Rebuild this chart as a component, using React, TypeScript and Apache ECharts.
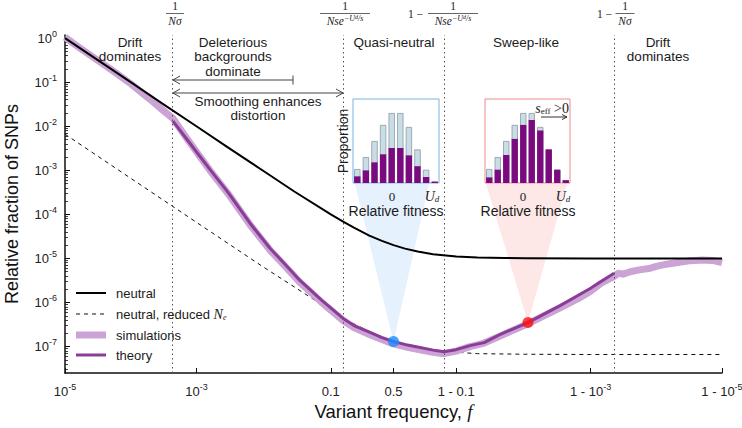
import React, { useEffect, useRef } from "react";
import * as echarts from "echarts";

const SANS = "'Liberation Sans', Arial, Helvetica, sans-serif";
const SERIF = "'Liberation Serif', 'DejaVu Serif', serif";

// ---- axis ticks / annotations ----
const xTickFreqs = [1e-5, 1e-3, 0.1, 0.5, 0.9, 0.999, 0.99999];
const xTickLabels = ["10^-5", "10^-3", "0.1", "0.5", "1 - 0.1", "1 - 10^-3", "1 - 10^-5"];
const yTickExponents = [0, -1, -2, -3, -4, -5, -6, -7];
const yMinorMultipliers = [2, 3, 4, 5, 6, 7, 8, 9];
const boundaryFreqs = [4.4e-4, 0.146, 0.854, 0.99956];

// ---- neutral ----
const neutralFreq = [1e-5, 2e-5, 5e-5, 1e-4, 3e-4, 1e-3, 3e-3, 1e-2, 3e-2, 0.1, 0.15, 0.2, 0.3, 0.4, 0.5, 0.6, 0.7, 0.8, 0.9, 0.95, 0.98, 0.99, 0.999, 0.9999, 0.99999];
const neutralVal = [1.0, 0.5, 0.2, 0.1, 3.3e-2, 1.0e-2, 3.3e-3, 1.0e-3, 3.3e-4, 1.0e-4, 6.7e-5, 5.0e-5, 3.3e-5, 2.5e-5, 2.0e-5, 1.67e-5, 1.43e-5, 1.25e-5, 1.11e-5, 1.05e-5, 1.02e-5, 1.01e-5, 1.0e-5, 1.0e-5, 1.0e-5];

// ---- neutral, reduced Ne ----
const reducedFreq = [1e-5, 1e-4, 1e-3, 1e-2, 0.1, 0.2, 0.3, 0.4, 0.5, 0.6, 0.7, 0.85, 0.95, 0.99, 0.999, 0.99999];
const reducedVal = [6.6e-3, 6.6e-4, 6.6e-5, 6.6e-6, 6.6e-7, 3.3e-7, 2.2e-7, 1.65e-7, 1.32e-7, 1.1e-7, 9.4e-8, 7.8e-8, 6.9e-8, 6.7e-8, 6.6e-8, 6.6e-8];

// ---- simulations ----
const simFreq = [1e-5, 1.4e-5, 2e-5, 3.4e-5, 6e-5, 1e-4, 2e-4, 3e-4, 4.4e-4, 7.2e-4, 1.6e-3, 3e-3, 6.5e-3, 1.3e-2, 2.2e-2, 3.6e-2, 7.5e-2, 0.146, 0.2, 0.305, 0.4, 0.5, 0.62, 0.717, 0.8, 0.854, 0.9, 0.936, 0.96, 0.977, 0.9911, 0.9971, 0.9985, 0.999, 0.9993, 0.99956, 0.99962, 0.99968, 0.99975, 0.99982, 0.99987, 0.9999, 0.99993, 0.99995, 0.99997, 0.99998, 0.999986, 0.99999];
const simVal = [1.05, 0.72, 0.5, 0.29, 0.16, 0.092, 0.04, 0.024, 0.015, 5.2e-3, 1.0e-3, 3.0e-4, 5.8e-5, 1.55e-5, 6.6e-6, 2.9e-6, 1.0e-6, 3.9e-7, 2.7e-7, 1.85e-7, 1.45e-7, 1.15e-7, 9.6e-8, 8.4e-8, 7.4e-8, 6.9e-8, 7.9e-8, 1.0e-7, 1.2e-7, 1.75e-7, 3.3e-7, 7.6e-7, 1.25e-6, 1.8e-6, 2.7e-6, 3.9e-6, 4.6e-6, 4.4e-6, 5.0e-6, 5.5e-6, 5.9e-6, 6.6e-6, 7.4e-6, 8.0e-6, 8.9e-6, 9.2e-6, 9.0e-6, 8.0e-6];

// ---- theory ----
const theoryFreq = [4.4e-4, 7.2e-4, 1.6e-3, 3e-3, 6.5e-3, 1.3e-2, 2.2e-2, 3.6e-2, 7.5e-2, 0.146, 0.2, 0.305, 0.4, 0.5, 0.62, 0.717, 0.8, 0.854, 0.9, 0.936, 0.96, 0.977, 0.9911, 0.9971, 0.999, 0.99956];
const theoryVal = [1.3e-2, 5.0e-3, 1.05e-3, 3.2e-4, 6.3e-5, 1.7e-5, 7.3e-6, 3.2e-6, 1.12e-6, 4.35e-7, 3.0e-7, 2.1e-7, 1.6e-7, 1.3e-7, 1.08e-7, 9.5e-8, 8.3e-8, 7.6e-8, 8.5e-8, 1.05e-7, 1.23e-7, 1.9e-7, 3.5e-7, 8.5e-7, 2.1e-6, 4.6e-6];

// ---- highlighted points ----
const markerFreq = [0.5, 0.9911];
const markerVal = [1.3e-7, 3.5e-7];
const markerColor = ["#1a8cff", "#ff1010"];

// ---- inset histograms ----
const fitnessBins = ["-4", "-3", "-2", "-1", "0", "1", "2", "3", "4", "5"];
const quasiTotal = [0.2, 0.37, 0.6, 0.83, 1.0, 1.0, 0.8, 0.48, 0.19, 0.02];
const quasiSelected = [0.095, 0.18, 0.295, 0.41, 0.5, 0.5, 0.395, 0.24, 0.086, 0.02];
const sweepTotal = [0.2, 0.37, 0.6, 0.83, 1.0, 1.0, 0.8, 0.48, 0.19, 0.04];
const sweepSelected = [0.08, 0.19, 0.4, 0.63, 0.83, 0.9, 0.75, 0.48, 0.19, 0.04];

// ---- legend ----
const legendNames = ["neutral", "neutral, reduced Ne", "simulations", "theory"];

const SIM_COLOR = "#cba3d5";
const THEORY_COLOR = "#8a3d96";
const LIGHT_BAR = "#c9dde7";
const DARK_BAR = "#7b0a80";

const logit = (f: number) => Math.log10(f / (1 - f));
const toPts = (fs: number[], vs: number[]) => fs.map((f, i) => [logit(f), Math.log10(vs[i])]);

const Y_MIN = -7.6;
const Y_MAX = 0.07;

function supRich(label: string) {
  const m = label.match(/^(.*)\^(.*)$/);
  return m ? `{b|${m[1]}}{s|${m[2]}}` : `{b|${label}}`;
}

const tickRich = {
  b: { fontSize: 13, lineHeight: 18, fontFamily: SANS, color: "#222" },
  s: { fontSize: 9, lineHeight: 10, verticalAlign: "top", fontFamily: SANS, color: "#222" },
};

const fracRich = {
  i: { fontFamily: SERIF, fontStyle: "italic", fontSize: 11.5, lineHeight: 14, color: "#222" },
  s: { fontFamily: SERIF, fontStyle: "italic", fontSize: 8, lineHeight: 8, verticalAlign: "top", color: "#222" },
  ss: { fontFamily: SERIF, fontStyle: "italic", fontSize: 6, lineHeight: 13, verticalAlign: "top", color: "#222" },
};

function buildOption() {
  const xTickVals = xTickFreqs.map(logit);
  const yMinor: number[] = [];
  for (let k = 0; k >= -8; k--) {
    yMinorMultipliers.forEach((m) => {
      const v = Math.log10(m) + k;
      if (v > Y_MIN && v < Y_MAX) yMinor.push(v);
    });
  }
  const catAxis = (gridIndex: number) => ({
    type: "category",
    gridIndex,
    data: fitnessBins,
    show: false,
  });
  const valAxis = (gridIndex: number) => ({
    type: "value",
    gridIndex,
    min: 0,
    max: 1.2,
    show: false,
    splitLine: { show: false },
  });
  const lineSeries = (name: string, fs: number[], vs: number[], color: string, width: number, z: number, extra: any = {}) => ({
    name,
    type: "line",
    xAxisIndex: 0,
    yAxisIndex: 0,
    data: toPts(fs, vs),
    symbol: "none",
    showSymbol: false,
    smooth: false,
    color,
    lineStyle: { color, width, join: "round", ...(extra.lineStyle || {}) },
    z,
    ...(extra.markLine ? { markLine: extra.markLine } : {}),
  });
  return {
    animation: false,
    backgroundColor: "#ffffff",
    grid: [
      { left: 65, right: 20, top: 35, bottom: 55, containLabel: false, outerBoundsMode: "none" },
      { left: 353, top: 99, width: 86, height: 84, show: true, borderColor: "#79b4e2", borderWidth: 1, backgroundColor: "#ffffff", containLabel: false, outerBoundsMode: "none" },
      { left: 485, top: 99, width: 85, height: 84, show: true, borderColor: "#ee8a86", borderWidth: 1, backgroundColor: "#ffffff", containLabel: false, outerBoundsMode: "none" },
    ],
    xAxis: [
      {
        type: "value",
        gridIndex: 0,
        min: -5,
        max: 5,
        splitLine: { show: false },
        axisLine: { show: true, onZero: false, lineStyle: { color: "#111", width: 1.5 } },
        axisTick: { show: true, inside: true, length: 5, customValues: xTickVals, lineStyle: { color: "#111", width: 1 } },
        axisLabel: {
          show: true,
          margin: 9,
          customValues: xTickVals,
          formatter: (v: number) => {
            const i = xTickVals.findIndex((t) => Math.abs(t - v) < 1e-6);
            return i >= 0 ? supRich(xTickLabels[i]) : "";
          },
          rich: tickRich,
        },
        name: "{t|Variant frequency, }{f|f}",
        nameLocation: "middle",
        nameGap: 27,
        nameTextStyle: {
          rich: {
            t: { fontSize: 18.5, fontFamily: SANS, color: "#111" },
            f: { fontSize: 19, fontFamily: SERIF, fontStyle: "italic", color: "#111" },
          },
        },
      },
      catAxis(1),
      catAxis(2),
    ],
    yAxis: [
      {
        type: "value",
        gridIndex: 0,
        min: Y_MIN,
        max: Y_MAX,
        splitLine: { show: false },
        axisLine: { show: true, onZero: false, lineStyle: { color: "#111", width: 1.5 } },
        axisTick: { show: true, inside: true, length: 5, customValues: yTickExponents, lineStyle: { color: "#111", width: 1 } },
        axisLabel: {
          show: true,
          margin: 8,
          customValues: yTickExponents,
          formatter: (v: number) => `{b|10}{s|${Math.round(v)}}`,
          rich: tickRich,
        },
        name: "Relative fraction of SNPs",
        nameLocation: "middle",
        nameGap: 44,
        nameTextStyle: { fontSize: 18, fontFamily: SANS, color: "#111" },
      },
      {
        type: "value",
        gridIndex: 0,
        min: Y_MIN,
        max: Y_MAX,
        position: "left",
        splitLine: { show: false },
        axisLine: { show: false, onZero: false },
        axisLabel: { show: false },
        axisTick: { show: true, inside: true, length: 3, customValues: yMinor, lineStyle: { color: "#111", width: 0.8 } },
      },
      valAxis(1),
      valAxis(2),
    ],
    series: [
      lineSeries(legendNames[1], reducedFreq, reducedVal, "#111", 1, 2, {
        lineStyle: { type: [4, 4] },
        markLine: {
          silent: true,
          symbol: "none",
          label: { show: false },
          lineStyle: { color: "#555", width: 1, type: [1.5, 3] },
          data: boundaryFreqs.map((f) => ({ xAxis: logit(f) })),
        },
      }),
      lineSeries(legendNames[2], simFreq, simVal, SIM_COLOR, 7, 3),
      lineSeries(legendNames[3], theoryFreq, theoryVal, THEORY_COLOR, 3, 4),
      lineSeries(legendNames[0], neutralFreq, neutralVal, "#000", 2, 5),
      {
        name: "markers",
        type: "scatter",
        xAxisIndex: 0,
        yAxisIndex: 0,
        symbolSize: 11,
        z: 6,
        data: markerFreq.map((f, i) => ({
          value: [logit(f), Math.log10(markerVal[i])],
          itemStyle: { color: markerColor[i] },
        })),
      },
      {
        name: "quasi total",
        type: "bar",
        xAxisIndex: 1,
        yAxisIndex: 2,
        data: quasiTotal,
        barWidth: "74%",
        barGap: "-100%",
        itemStyle: { color: LIGHT_BAR, borderColor: "#8d9ba5", borderWidth: 0.8 },
        z: 3,
      },
      {
        name: "quasi selected",
        type: "bar",
        xAxisIndex: 1,
        yAxisIndex: 2,
        data: quasiSelected,
        barWidth: "74%",
        barGap: "-100%",
        itemStyle: { color: DARK_BAR },
        z: 4,
      },
      {
        name: "sweep total",
        type: "bar",
        xAxisIndex: 2,
        yAxisIndex: 3,
        data: sweepTotal,
        barWidth: "74%",
        barGap: "-100%",
        itemStyle: { color: LIGHT_BAR, borderColor: "#8d9ba5", borderWidth: 0.8 },
        z: 3,
      },
      {
        name: "sweep selected",
        type: "bar",
        xAxisIndex: 2,
        yAxisIndex: 3,
        data: sweepSelected,
        barWidth: "74%",
        barGap: "-100%",
        itemStyle: { color: DARK_BAR },
        z: 4,
      },
    ],
  };
}

const T = (x: number, y: number, text: string, extra: any = {}, z = 20) => ({
  type: "text",
  x,
  y,
  z,
  silent: true,
  style: { text, align: "center", verticalAlign: "middle", fontSize: 14, fontFamily: SANS, fill: "#1b1b1b", ...extra },
});
const L = (x1: number, y1: number, x2: number, y2: number, extra: any = {}) => ({
  type: "line",
  z: 20,
  silent: true,
  shape: { x1, y1, x2, y2 },
  style: { stroke: "#333", lineWidth: 1, ...extra },
});
const PL = (points: number[][], extra: any = {}) => ({
  type: "polyline",
  z: 20,
  silent: true,
  shape: { points },
  style: { stroke: "#333", lineWidth: 1, fill: null, ...extra },
});

function fraction(cx: number, barW: number, denom: string, prefixRight?: number) {
  const els: any[] = [
    T(cx, 6, "1", { fontFamily: SERIF, fontSize: 11.5, fill: "#222" }),
    L(cx - barW / 2, 13.5, cx + barW / 2, 13.5, { stroke: "#222", lineWidth: 0.7 }),
    T(cx, 21, denom, { rich: fracRich, fontFamily: SERIF, fontSize: 11.5, fill: "#222" }),
  ];
  if (prefixRight !== undefined) {
    els.push(T(prefixRight, 13.5, "1 \u2212", { align: "right", fontFamily: SERIF, fontSize: 11.5, fill: "#222" }));
  }
  return els;
}

// stacked lines of a multi-line label, each its own text
function lines(cx: number, firstY: number, parts: string[], step = 14.5) {
  return parts.map((p, i) => T(cx, firstY + i * step, p, { fontSize: 13.5, lineHeight: 13 }));
}

function buildGraphics(blue: number[], red: number[]) {
  const denomLong = "{i|Nse}{s|\u2212U}{ss|d}{s|/s}";
  const denomShort = "{i|N\u03c3}";
  const italicRich = {
    i: { fontFamily: SERIF, fontStyle: "italic", fontSize: 14, lineHeight: 14, color: "#222" },
    sb: { fontFamily: SERIF, fontStyle: "italic", fontSize: 9, lineHeight: 9, verticalAlign: "bottom", color: "#222" },
    r: { fontFamily: SERIF, fontSize: 9, lineHeight: 9, verticalAlign: "bottom", color: "#222" },
    t: { fontFamily: SERIF, fontSize: 14, lineHeight: 14, color: "#222" },
  };
  const legendRich = {
    t: { fontSize: 13, fontFamily: SANS, color: "#222", lineHeight: 15 },
    i: { fontSize: 14, fontFamily: SERIF, fontStyle: "italic", color: "#222", lineHeight: 15 },
    sb: { fontSize: 8, fontFamily: SERIF, fontStyle: "italic", color: "#222", lineHeight: 9, verticalAlign: "bottom" },
  };
  const legendY = [293, 314, 335, 355];
  const legendStyles = [
    { stroke: "#000", lineWidth: 2 },
    { stroke: "#111", lineWidth: 1, lineDash: [4, 4] },
    { stroke: SIM_COLOR, lineWidth: 7 },
    { stroke: THEORY_COLOR, lineWidth: 3 },
  ];
  const legendEls: any[] = [];
  legendNames.forEach((name, i) => {
    legendEls.push(L(76, legendY[i], 106, legendY[i], legendStyles[i]));
    const label = name === "neutral, reduced Ne" ? "{t|neutral, reduced }{i|N}{sb|e}" : `{t|${name}}`;
    legendEls.push(T(116, legendY[i], label, { align: "left", rich: legendRich }));
  });
  return [
    // cones
    {
      type: "polygon",
      z: 1,
      silent: true,
      shape: { points: [[355, 184], [429, 184], [blue[0], blue[1]]] },
      style: { fill: "#e5f1fd" },
    },
    {
      type: "polygon",
      z: 1,
      silent: true,
      shape: { points: [[486, 184], [567, 184], [red[0], red[1]]] },
      style: { fill: "#fde8e7" },
    },
    // fraction labels
    ...fraction(175, 18, denomShort),
    ...fraction(345, 50, denomLong),
    ...fraction(453, 50, denomLong, 423),
    ...fraction(625, 19, denomShort, 612),
    // region texts
    ...lines(130, 42, ["Drift", "dominates"]),
    ...lines(233, 42, ["Deleterious", "backgrounds", "dominate"]),
    T(394, 42, "Quasi-neutral", { fontSize: 13.5, lineHeight: 13 }),
    T(526, 42, "Sweep-like", { fontSize: 13.5, lineHeight: 13 }),
    ...lines(658, 42, ["Drift", "dominates"]),
    ...lines(258, 101, ["Smoothing enhances", "distortion"]),
    // arrows
    L(173, 80, 293, 80, { stroke: "#444" }),
    PL([[180, 76], [173, 80], [180, 84]], { stroke: "#444" }),
    L(293, 75.5, 293, 84.5, { stroke: "#444" }),
    L(173, 93, 343, 93, { stroke: "#444" }),
    PL([[180, 89], [173, 93], [180, 97]], { stroke: "#444" }),
    PL([[336, 89], [343, 93], [336, 97]], { stroke: "#444" }),
    // inset labels
    {
      type: "text",
      x: 343,
      y: 141,
      z: 20,
      rotation: Math.PI / 2,
      silent: true,
      style: { text: "Proportion", x: 0, y: 0, align: "center", verticalAlign: "middle", fontSize: 14, fontFamily: SANS, fill: "#1b1b1b" },
    },
    T(392, 196, "0", { fontFamily: SERIF, fontSize: 13, lineHeight: 12, fill: "#222" }),
    T(432, 196, "{i|U}{sb|d}", { rich: italicRich }),
    T(396, 211, "Relative fitness", { lineHeight: 14 }),
    T(523, 196, "0", { fontFamily: SERIF, fontSize: 13, lineHeight: 12, fill: "#222" }),
    T(563, 196, "{i|U}{sb|d}", { rich: italicRich }),
    T(528, 211, "Relative fitness", { lineHeight: 14 }),
    T(569, 108, "{i|s}{r|eff}{t| >0}", { rich: italicRich, align: "right" }, 25),
    L(541, 117, 567, 117, { stroke: "#333", lineWidth: 1 }),
    PL([[562, 114.5], [567, 117], [562, 119.5]], { stroke: "#333" }),
    // legend
    ...legendEls,
  ];
}

export default function App() {
  const ref = useRef<HTMLDivElement>(null);
  useEffect(() => {
    const el = ref.current;
    if (!el) return;
    const chart = echarts.init(el, null, { renderer: "svg" });
    chart.setOption(buildOption() as any);
    const blue = chart.convertToPixel({ gridIndex: 0 } as any, [logit(markerFreq[0]), Math.log10(markerVal[0])]) as number[];
    const red = chart.convertToPixel({ gridIndex: 0 } as any, [logit(markerFreq[1]), Math.log10(markerVal[1])]) as number[];
    chart.setOption({ graphic: { elements: buildGraphics(blue, red) } } as any);
    return () => chart.dispose();
  }, []);
  return (
    <div
      ref={ref}
      style={{ position: "fixed", left: 0, top: 0, width: 742, height: 428, background: "#fff" }}
    />
  );
}
